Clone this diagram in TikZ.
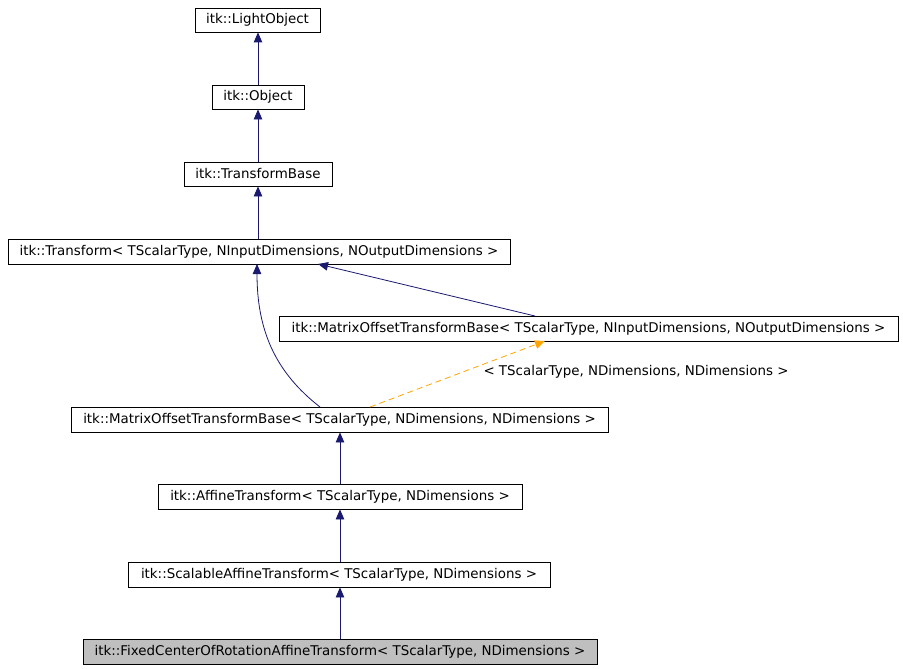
\documentclass[tikz,border=0pt]{standalone}
\usepackage{fontspec}
\setmainfont{DejaVu Sans}
\usetikzlibrary{arrows.meta}
\definecolor{edgeblue}{HTML}{191970}
\definecolor{tmplorange}{HTML}{FFA500}
\definecolor{curfill}{HTML}{BFBFBF}
\begin{document}
\begin{tikzpicture}[x=1pt,y=-1pt,
  box/.style={draw=black, line width=0.8pt, fill=white, inner sep=0pt, font=\fontsize{13.4}{15}\selectfont},
  inh/.style={draw=edgeblue, line width=0.8pt, -{Triangle[length=10pt,width=8.5pt]}},
  tmpl/.style={draw=tmplorange, line width=0.8pt, dash pattern=on 6pt off 4pt, -{Triangle[length=10pt,width=8.5pt]}},
  lbl/.style={font=\fontsize{13.4}{15}\selectfont, inner sep=0pt}]
\useasboundingbox (0,0) rectangle (903,669);
\node[box, minimum width=125pt, minimum height=24pt] (light) at (257.5,20) {itk::LightObject};
\node[box, minimum width=92pt, minimum height=24pt] (obj) at (258,97) {itk::Object};
\node[box, minimum width=148pt, minimum height=24pt] (tbase) at (258,174) {itk::TransformBase};
\node[box, minimum width=502pt, minimum height=25pt] (tr) at (259,251.5) {itk::Transform< TScalarType, NInputDimensions, NOutputDimensions >};
\node[box, minimum width=619pt, minimum height=25pt] (motbio) at (588.5,328.5) {itk::MatrixOffsetTransformBase< TScalarType, NInputDimensions, NOutputDimensions >};
\node[box, minimum width=537pt, minimum height=25pt] (motbd) at (339.5,419.5) {itk::MatrixOffsetTransformBase< TScalarType, NDimensions, NDimensions >};
\node[box, minimum width=364pt, minimum height=25pt] (aff) at (340,496.5) {itk::AffineTransform< TScalarType, NDimensions >};
\node[box, minimum width=422pt, minimum height=25pt] (scal) at (339,574.5) {itk::ScalableAffineTransform< TScalarType, NDimensions >};
\node[box, fill=curfill, minimum width=514pt, minimum height=25pt] (fixed) at (340,651.5) {itk::FixedCenterOfRotationAffineTransform< TScalarType, NDimensions >};
% connectors
\draw[inh] (obj.north -| 258,0) -- (light.south -| 258,0);
\draw[inh] (tbase.north -| 258,0) -- (obj.south -| 258,0);
\draw[inh] (tr.north -| 258,0) -- (tbase.south -| 258,0);
\coordinate (ioTop) at (535,316);
\coordinate (trHit) at (318,264);
\draw[inh] (ioTop) -- (trHit);
\coordinate (dTop) at (320,407);
\coordinate (trBot) at (257,264);
\draw[inh] (dTop) .. controls (275,372) and (257,330) .. (trBot);
\coordinate (dTop2) at (370,407);
\coordinate (ioBot) at (545,341);
\draw[tmpl] (dTop2) -- (ioBot);
\node[lbl] (tlabel) at (636,372) {< TScalarType, NDimensions, NDimensions >};
\draw[inh] (aff.north -| 340,0) -- (motbd.south -| 340,0);
\draw[inh] (scal.north -| 340,0) -- (aff.south -| 340,0);
\draw[inh] (fixed.north -| 340,0) -- (scal.south -| 340,0);
\end{tikzpicture}
\end{document}
